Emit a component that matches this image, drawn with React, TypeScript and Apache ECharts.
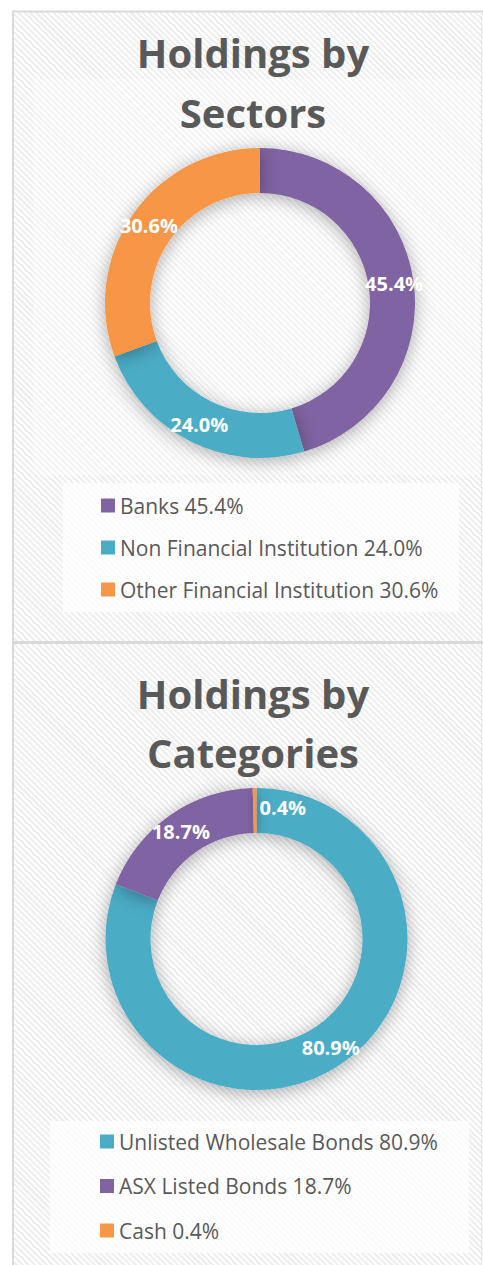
import React, { useEffect, useRef } from "react";
import * as echarts from "echarts";

const sectorNames = ["Banks", "Non Financial Institution", "Other Financial Institution"];
const sectorValues = [45.4, 24.0, 30.6];
const sectorColors = ["#8064A2", "#4BACC6", "#F79646"];

const categoryNames = ["Unlisted Wholesale Bonds", "ASX Listed Bonds", "Cash"];
const categoryValues = [80.9, 18.7, 0.4];
const categoryColors = ["#4BACC6", "#8064A2", "#F79646"];

const titleTop = ["Holdings by", "Sectors"];
const titleBottom = ["Holdings by", "Categories"];

const FONT = "'Open Sans', 'Noto Sans', sans-serif";
const TEXT = "#595959";

export default function App() {
  const ref = useRef<HTMLDivElement>(null);

  useEffect(() => {
    document.body.style.margin = "0";
    const chart = echarts.init(ref.current!, undefined, { renderer: "svg" });

    const fmtLegend = (names: string[], values: number[]) => (name: string) => {
      const i = names.indexOf(name);
      return `${name} ${values[i].toFixed(1)}%`;
    };

    const legendCommon = {
      orient: "vertical",
      icon: "rect",
      itemWidth: 14,
      itemHeight: 14,
      selectedMode: false,
      textStyle: { fontFamily: FONT, fontSize: 21, color: TEXT, lineHeight: 21 },
    };

    const titleText = (text: string, y: number) => ({
      type: "text",
      x: 253,
      y,
      silent: true,
      style: {
        text,
        fill: TEXT,
        font: `bold 40px ${FONT}`,
        textAlign: "center",
        textVerticalAlign: "middle",
      },
    });

    const pieCommon = {
      type: "pie",
      startAngle: 90,
      clockwise: true,
      silent: true,
      avoidLabelOverlap: false,
      labelLine: { show: false },
      emphasis: { disabled: true },
      itemStyle: { shadowBlur: 18, shadowColor: "rgba(0,0,0,0.32)", shadowOffsetY: 3 },
      label: {
        show: true,
        position: "inside",
        color: "#ffffff",
        fontFamily: FONT,
        fontWeight: "bold",
        fontSize: 20,
        formatter: (p: any) => `${Number(p.value).toFixed(1)}%`,
      },
    };

    chart.setOption({
      animation: false,
      graphic: [
        { type: "line", silent: true, shape: { x1: 13, y1: 11, x2: 13, y2: 1265 }, style: { stroke: "#d9d9d9", lineWidth: 2 } },
        { type: "line", silent: true, shape: { x1: 12, y1: 11.5, x2: 483, y2: 11.5 }, style: { stroke: "#d9d9d9", lineWidth: 2 } },
        { type: "line", silent: true, shape: { x1: 481.5, y1: 11, x2: 481.5, y2: 1265 }, style: { stroke: "#e6e6e6", lineWidth: 1 } },
        { type: "line", silent: true, shape: { x1: 12, y1: 642.5, x2: 483, y2: 642.5 }, style: { stroke: "#d9d9d9", lineWidth: 3 } },
        { type: "rect", silent: true, z: -1, shape: { x: 33, y: 79, width: 447, height: 396 }, style: { fill: "rgba(255,255,255,0.3)" } },
        { type: "rect", silent: true, shape: { x: 63, y: 483, width: 396, height: 129 }, style: { fill: "rgba(255,255,255,0.72)" } },
        { type: "rect", silent: true, shape: { x: 50, y: 1121, width: 419, height: 132 }, style: { fill: "rgba(255,255,255,0.72)" } },
        titleText(titleTop[0], 52),
        titleText(titleTop[1], 112),
        titleText(titleBottom[0], 693),
        titleText(titleBottom[1], 752),
      ],
      legend: [
        {
          ...legendCommon,
          data: sectorNames,
          left: 96,
          top: 490,
          itemGap: 21,
          formatter: fmtLegend(sectorNames, sectorValues),
        },
        {
          ...legendCommon,
          data: categoryNames,
          left: 95,
          top: 1126,
          itemGap: 23.5,
          formatter: fmtLegend(categoryNames, categoryValues),
        },
      ],
      series: [
        {
          ...pieCommon,
          name: "Sectors",
          center: [260, 303],
          radius: [110, 155],
          data: sectorNames.map((n, i) => ({
            name: n,
            value: sectorValues[i],
            itemStyle: { color: sectorColors[i] },
          })),
        },
        {
          ...pieCommon,
          name: "Categories",
          center: [256.5, 939],
          radius: [106, 151],
          data: categoryNames.map((n, i) => ({
            name: n,
            value: categoryValues[i],
            itemStyle: { color: categoryColors[i] },
            label: n === "Cash" ? { offset: [28, 0] } : undefined,
          })),
        },
      ],
    });

    return () => chart.dispose();
  }, []);

  return (
    <div style={{ position: "absolute", left: 0, top: 0, width: 483, height: 1265, background: "#ffffff" }}>
      <div
        style={{
          position: "absolute",
          left: 13,
          top: 11,
          width: 470,
          height: 1254,
          background:
            "repeating-linear-gradient(45deg, #ffffff 0px, #ffffff 2px, #efefef 2px, #efefef 4.2px)",
        }}
      />
      <div ref={ref} style={{ position: "absolute", left: 0, top: 0, width: 483, height: 1265 }} />
    </div>
  );
}
